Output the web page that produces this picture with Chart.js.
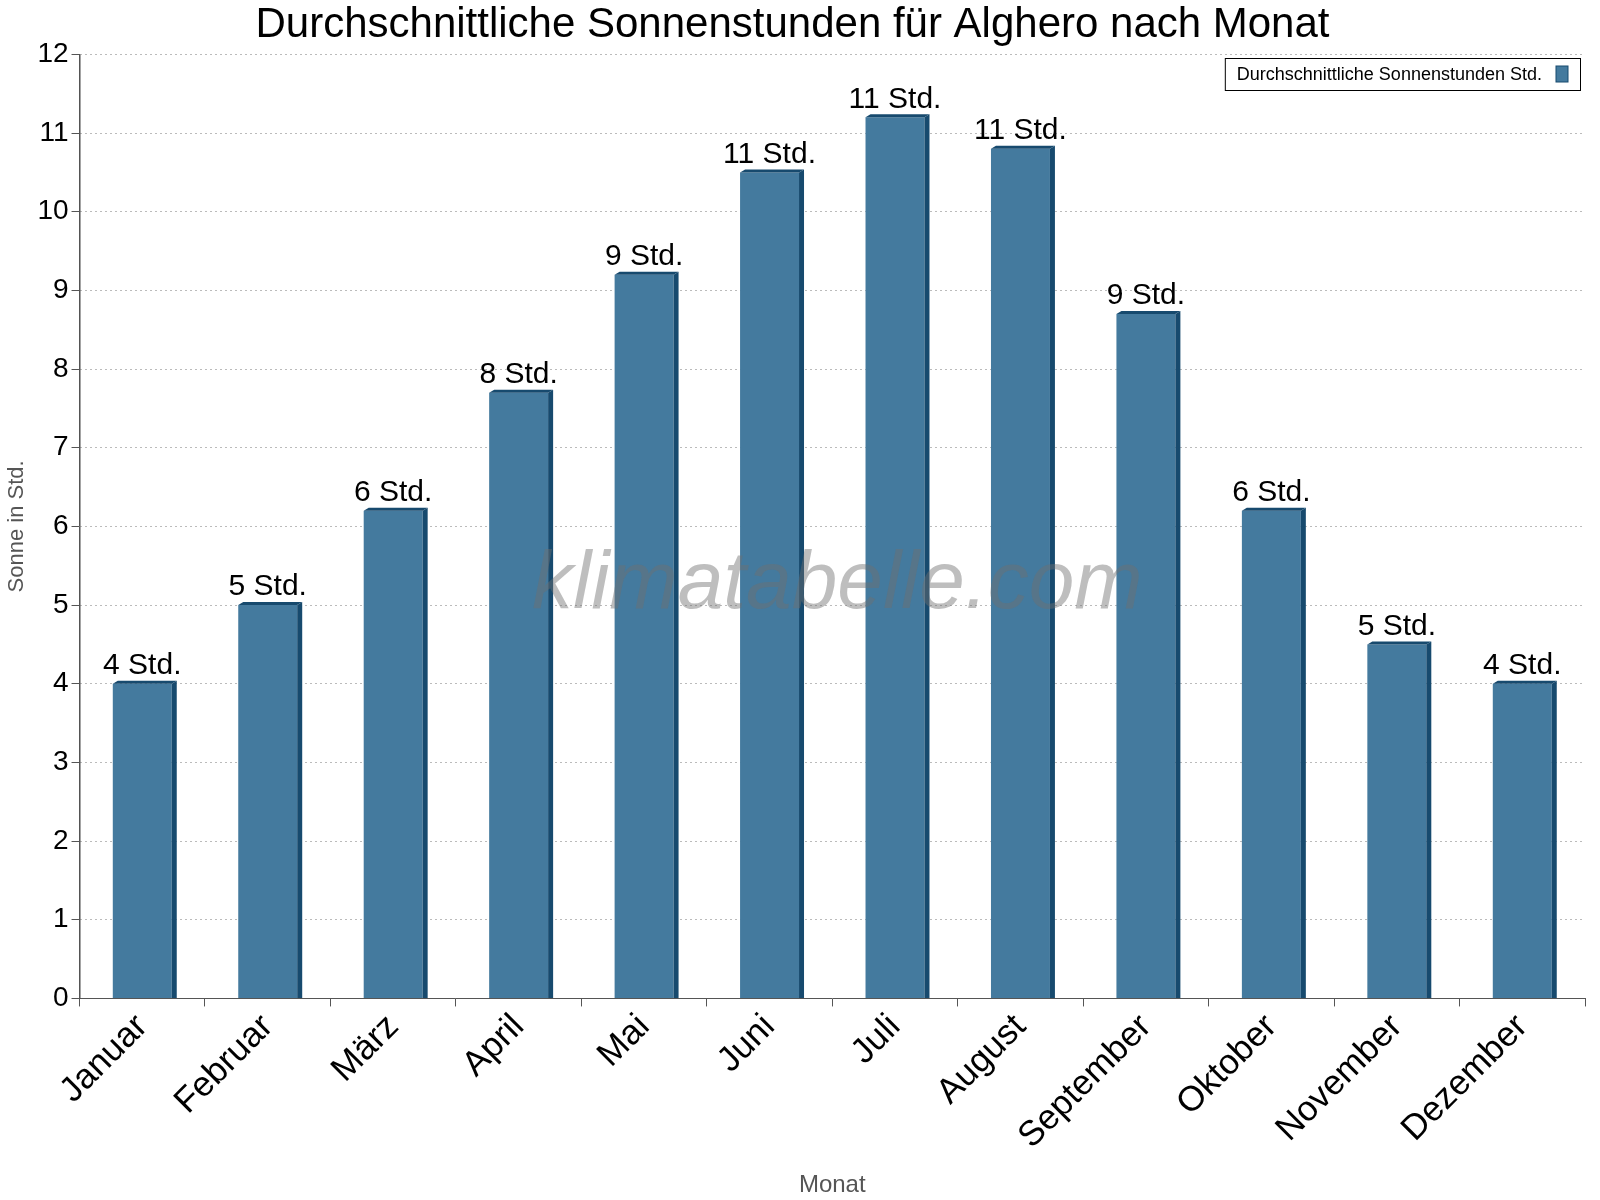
<!DOCTYPE html>
<html><head><meta charset="utf-8">
<script src="https://cdn.jsdelivr.net/npm/chart.js@4/dist/chart.umd.min.js"></script>
<style>html,body{margin:0;background:#fff}#w{width:1600px;height:1200px}</style>
</head><body><div id="w"><canvas id="c"></canvas></div>
<script>
const months=["Januar","Februar","März","April","Mai","Juni","Juli","August","September","Oktober","November","Dezember"];
const sunHours=[4.0,5.0,6.2,7.7,9.2,10.5,11.2,10.8,8.7,6.2,4.5,4.0];
const seriesName="Durchschnittliche Sonnenstunden Std.";
const titleText="Durchschnittliche Sonnenstunden für Alghero nach Monat";
const F="Liberation Sans, Arial, sans-serif";
const deco={id:"deco",
 afterDatasetsDraw(ch){const c=ch.ctx;c.save();const m=ch.getDatasetMeta(0);
  m.data.forEach((b,i)=>{const w=b.width,l=b.x-w/2,r=b.x+w/2,y=b.y,base=b.base;
   c.fillStyle="#174a6e";c.beginPath();c.moveTo(r,y);c.lineTo(r+5,y-3);c.lineTo(r+5,base);c.lineTo(r,base);c.closePath();c.fill();
   c.beginPath();c.moveTo(l,y);c.lineTo(l+5,y-3);c.lineTo(r+5,y-3);c.lineTo(r,y);c.closePath();c.fill();
   c.fillStyle="#000";c.font="30px "+F;c.textAlign="center";c.textBaseline="bottom";c.fillText(Math.round(sunHours[i])+" Std.",b.x,y-3);});
  const a=ch.chartArea;
  c.strokeStyle="#555";c.lineWidth=1;c.beginPath();c.moveTo(a.left+.5,a.top);c.lineTo(a.left+.5,a.bottom);c.stroke();
  c.font="italic 82px "+F;c.fillStyle="rgba(110,110,110,0.45)";c.textAlign="center";c.textBaseline="middle";c.fillText("klimatabelle.com",(a.left+a.right)/2+5,585);
  c.font="18px "+F;const tw=c.measureText(seriesName).width;const x1=a.right-5,x0=x1-(tw+50),y0=58,h=32;
  c.fillStyle="#fff";c.fillRect(x0,y0,x1-x0,h);c.strokeStyle="#000";c.lineWidth=1;c.strokeRect(x0+.5,y0+.5,x1-x0,h);
  c.fillStyle="#000";c.textAlign="left";c.textBaseline="middle";c.fillText(seriesName,x0+12,y0+h/2+1);
  c.fillStyle="#447a9e";c.fillRect(x1-24,y0+8,12,16);c.strokeStyle="#174a6e";c.strokeRect(x1-24,y0+8,12,16);
  c.restore();}};
new Chart(document.getElementById("c"),{type:"bar",
 data:{labels:months,datasets:[{label:seriesName,data:sunHours,backgroundColor:"#447a9e",barPercentage:0.47,categoryPercentage:1}]},
 options:{responsive:true,maintainAspectRatio:false,animation:false,
  layout:{padding:{left:0,right:15,top:0,bottom:0}},
  plugins:{legend:{display:false},tooltip:{enabled:false},
   title:{display:true,text:titleText,font:{family:F,size:42,weight:"normal"},color:"#000",padding:{top:0,bottom:4}}},
  scales:{
   x:{grid:{display:true,drawOnChartArea:false,offset:true,tickLength:8,color:"#555"},border:{color:"#555"},
    ticks:{color:"#000",font:{family:F,size:35},maxRotation:45,minRotation:45,padding:0},
    title:{display:true,text:"Monat",color:"#555",font:{family:F,size:24},padding:{top:14,bottom:0}}},
   y:{min:0,max:12,grid:{color:"#bbb",tickLength:8,tickBorderDash:[],tickColor:"#555"},border:{color:"#555",dash:[2,3]},
    ticks:{stepSize:1,color:"#000",font:{family:F,size:28}},
    title:{display:true,text:"Sonne in Std.",color:"#555",font:{family:F,size:22}}}}},
 plugins:[deco]});
</script></body></html>
